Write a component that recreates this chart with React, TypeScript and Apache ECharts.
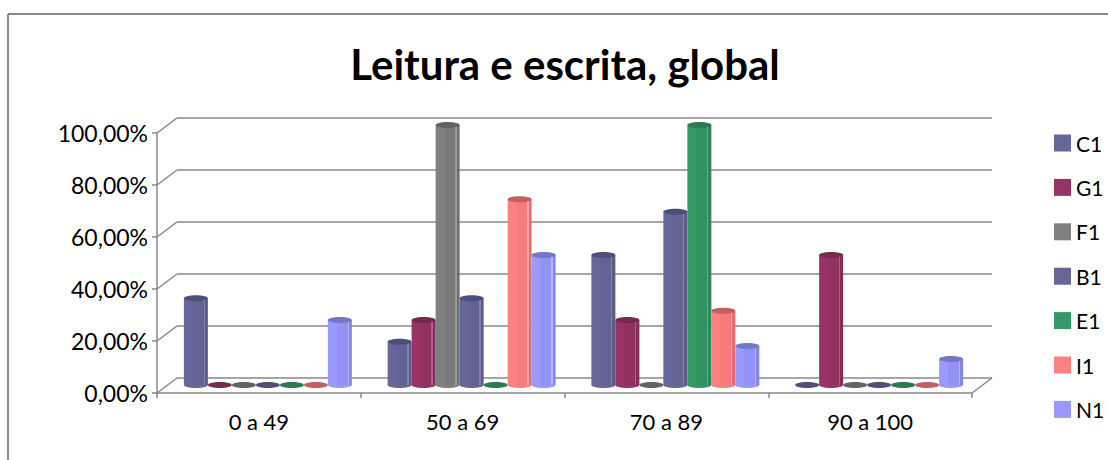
import React, { useEffect, useRef } from "react";
import * as echarts from "echarts";

const categories = ["0 a 49", "50 a 69", "70 a 89", "90 a 100"];
const C1 = [33.33, 16.67, 50, 0];
const G1 = [0, 25, 25, 50];
const F1 = [0, 100, 0, 0];
const B1 = [0, 33.33, 66.67, 0];
const E1 = [0, 0, 100, 0];
const I1 = [0, 71.43, 28.57, 0];
const N1 = [25, 50, 15, 10];
const yTicks = [0, 20, 40, 60, 80, 100];

const names = ["C1", "G1", "F1", "B1", "E1", "I1", "N1"];
const values = [C1, G1, F1, B1, E1, I1, N1];
const swatch = ["#666699", "#993366", "#808080", "#666699", "#339966", "#FF8080", "#9999FF"];
const midFace = ["#616392", "#923160", "#7a7a7a", "#616392", "#319261", "#f57a7a", "#9292f5"];
const sideFace = ["#5a5c87", "#872d59", "#717171", "#5a5c87", "#2d875a", "#e07070", "#8787e0"];
const lineFace = ["#8284ae", "#b0618a", "#9c9c9c", "#8284ae", "#62b08a", "#ffa5a5", "#b5b5ff"];
const capFace = ["#4d4f7a", "#752a50", "#636363", "#4d4f7a", "#2a7a52", "#c25f5f", "#7478c4"];

const FONT = "Lato";
const AXIS = "#888888";
const DEPTH_X = 20;
const DEPTH_Y = 15;
const BAR_DX = 9;
const BAR_DY = 8;
const SLOT = 24;
const RX = 12;
const RY = 3;

const barRender = (si: number) => (_p: any, api: any) => {
  const cat = api.value(0);
  const v = api.value(1);
  const top = api.coord([cat, v]);
  const base = api.coord([cat, 0]);
  const cx = top[0] + BAR_DX + (si - 3) * SLOT;
  const yTop = top[1] - BAR_DY;
  const yBase = base[1] - BAR_DY;
  if (v <= 0) {
    return {
      type: "ellipse",
      shape: { cx, cy: yBase, rx: RX, ry: RY },
      style: { fill: capFace[si] },
    };
  }
  const fill = new echarts.graphic.LinearGradient(0, 0, 1, 0, [
    { offset: 0, color: swatch[si] },
    { offset: 0.38, color: swatch[si] },
    { offset: 0.38, color: midFace[si] },
    { offset: 0.82, color: midFace[si] },
    { offset: 0.82, color: lineFace[si] },
    { offset: 0.87, color: lineFace[si] },
    { offset: 0.87, color: sideFace[si] },
    { offset: 1, color: sideFace[si] },
  ]);
  return {
    type: "group",
    children: [
      { type: "ellipse", shape: { cx, cy: yBase, rx: RX, ry: RY }, style: { fill: swatch[si] } },
      { type: "rect", shape: { x: cx - RX, y: yTop, width: RX * 2, height: yBase - yTop }, style: { fill } },
      { type: "ellipse", shape: { cx, cy: yTop, rx: RX, ry: RY }, style: { fill: capFace[si] } },
    ],
  };
};

const wallRender = (params: any, api: any) => {
  const v = api.value(0);
  const y = api.coord([0, v])[1];
  const left = params.coordSys.x;
  const right = left + params.coordSys.width;
  const lineStyle = { stroke: AXIS, lineWidth: 1.5, fill: "none" };
  const children: any[] = [
    { type: "line", shape: { x1: left, y1: y, x2: left + DEPTH_X, y2: y - DEPTH_Y }, style: lineStyle },
    { type: "line", shape: { x1: left + DEPTH_X, y1: y - DEPTH_Y, x2: right + DEPTH_X, y2: y - DEPTH_Y }, style: lineStyle },
  ];
  if (v === 0) {
    children.push({ type: "line", shape: { x1: right, y1: y, x2: right + DEPTH_X, y2: y - DEPTH_Y }, style: lineStyle });
  }
  return { type: "group", children };
};

export default function App() {
  const ref = useRef<HTMLDivElement>(null);
  useEffect(() => {
    const chart = echarts.init(ref.current!, undefined, { renderer: "svg" });
    chart.setOption({
      animation: false,
      backgroundColor: "#ffffff",
      title: {
        text: "Leitura e escrita, global",
        left: 565,
        top: 43,
        padding: 0,
        textAlign: "center",
        textStyle: { fontFamily: FONT, fontWeight: "bold", fontSize: 42, color: "#000000" },
      },
      graphic: [
        { type: "line", shape: { x1: 8, y1: 460, x2: 8, y2: 14 }, style: { stroke: AXIS, lineWidth: 2 } },
        { type: "line", shape: { x1: 8, y1: 14, x2: 1108, y2: 14 }, style: { stroke: AXIS, lineWidth: 2 } },
      ],
      legend: {
        orient: "vertical",
        left: 1054,
        top: 131,
        padding: 0,
        itemWidth: 17,
        itemHeight: 17,
        itemGap: 20.4,
        icon: "rect",
        data: names,
        textStyle: { fontFamily: FONT, fontSize: 21, lineHeight: 24, color: "#000000" },
      },
      grid: { left: 157, right: 136, top: 133, bottom: 67 },
      xAxis: {
        type: "category",
        data: categories,
        axisLine: { lineStyle: { color: AXIS, width: 1.5 } },
        axisTick: { show: true, length: 5, lineStyle: { color: AXIS, width: 1.5 } },
        axisLabel: { fontFamily: FONT, fontSize: 22, color: "#000000", margin: 17 },
      },
      yAxis: {
        type: "value",
        min: 0,
        max: 100,
        interval: 20,
        axisLine: { show: true, lineStyle: { color: AXIS, width: 1.5 } },
        axisTick: { show: true, length: 5, lineStyle: { color: AXIS, width: 1.5 } },
        splitLine: { show: false },
        axisLabel: {
          fontFamily: FONT,
          fontSize: 23,
          color: "#000000",
          margin: 9,
          formatter: (v: number) => v.toFixed(2).replace(".", ",") + "%",
        },
      },
      series: [
        {
          type: "custom",
          name: "walls",
          z: 1,
          silent: true,
          clip: false,
          renderItem: wallRender,
          data: yTicks.map((t) => [t]),
          encode: { y: 0 },
        },
        ...names.map((name, si) => ({
          type: "custom",
          name,
          z: 3,
          clip: false,
          itemStyle: { color: swatch[si] },
          renderItem: barRender(si),
          data: values[si].map((v, i) => [i, v]),
          encode: { x: 0, y: 1 },
        })),
      ],
    });
    return () => chart.dispose();
  }, []);
  return <div ref={ref} style={{ position: "absolute", left: 0, top: 0, width: 1108, height: 460 }} />;
}
